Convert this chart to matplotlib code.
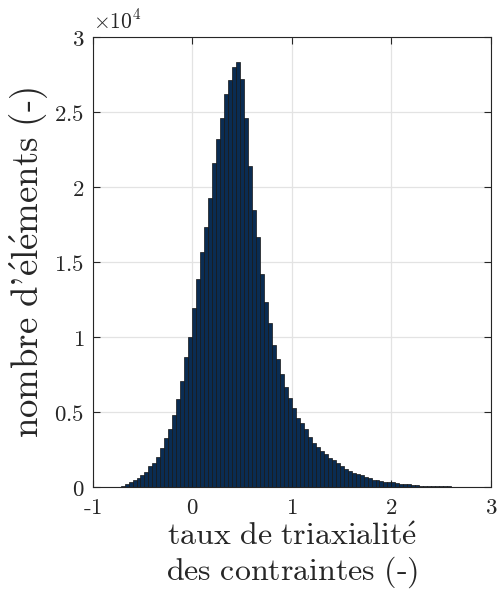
import numpy as np
import matplotlib
matplotlib.use("Agg")
import matplotlib.pyplot as plt
from matplotlib.ticker import FixedLocator, FuncFormatter

plt.rcParams['mathtext.fontset'] = 'cm'
plt.rcParams['axes.unicode_minus'] = False

# Histogram: 100 bins of width 0.04 from -1 to 3 (counts)
bin_start = -1.0
bin_width = 0.04
counts = [
    5, 8, 10, 15, 20, 30, 50, 120, 240, 350,
    480, 600, 820, 1000, 1420, 1640, 2040, 2610, 3260, 3890,
    4820, 5890, 7120, 8670, 10040, 11970, 13890, 15710, 17370, 19310,
    21620, 23200, 24640, 26200, 27130, 28040, 28370, 27250, 24640, 21390,
    18470, 16670, 14250, 12350, 10930, 9510, 8530, 7550, 6710, 5930,
    5270, 4600, 4270, 3890, 3380, 2930, 2710, 2440, 2220, 1980,
    1820, 1640, 1400, 1240, 1070, 930, 870, 820, 710, 620,
    510, 470, 400, 370, 350, 330, 280, 250, 210, 190,
    160, 140, 120, 110, 100, 80, 70, 70, 60, 60,
    50, 50, 40, 40, 40, 30, 30, 30, 30, 20,
]
x_ticks = [-1, 0, 1, 2, 3]
x_tick_labels = ['-1', '0', '1', '2', '3']
y_ticks = [0, 5000, 10000, 15000, 20000, 25000, 30000]
y_scale = 1e4
xlabel = r"$\mathrm{taux\ de\ triaxialit\acute{e}}$" + "\n" + r"$\mathrm{des\ contraintes\ (}\text{-}\mathrm{)}$"
ylabel = r"$\mathrm{nombre\ d}\text{'}\mathrm{\acute{e}l\acute{e}ments\ (}\text{-}\mathrm{)}$"

edges = bin_start + bin_width * np.arange(len(counts) + 1)

fig = plt.figure(figsize=(4.97, 5.94), dpi=100)
ax = fig.add_axes([0.1865, 0.1796, 0.8015, 0.7576])

ax.bar(edges[:-1], counts, width=bin_width, align='edge',
       facecolor='#0a2c52', edgecolor='#151515', linewidth=0.5, zorder=2)

ax.set_xlim(-1, 3)
ax.set_ylim(0, 30000)
ax.set_axisbelow(True)
ax.grid(True, color='#e3e3e3', linewidth=0.9, zorder=0)

ax.xaxis.set_major_locator(FixedLocator(x_ticks))
ax.set_xticklabels([r'$\mathrm{%s}$' % (t.replace('-', r'\text{-}')) for t in x_tick_labels])
ax.yaxis.set_major_locator(FixedLocator(y_ticks))
ax.yaxis.set_major_formatter(FuncFormatter(lambda v, p: r'$\mathrm{%g}$' % (v / y_scale)))

ax.tick_params(direction='in', length=5, width=0.8, top=True, right=True,
               labelsize=16.5, colors='#262626', pad=6)
for s in ax.spines.values():
    s.set_color('#262626')
    s.set_linewidth(0.8)

ax.text(0.0, 1.01, r'$\times10^4$', transform=ax.transAxes, ha='left', va='bottom',
        fontsize=15.5, color='#262626')

ax.set_xlabel(xlabel, fontsize=23, color='#262626', labelpad=2, linespacing=1.1)
ax.set_ylabel(ylabel, fontsize=26.5, color='#262626', labelpad=3)

fig.savefig('out.png', dpi=100)
